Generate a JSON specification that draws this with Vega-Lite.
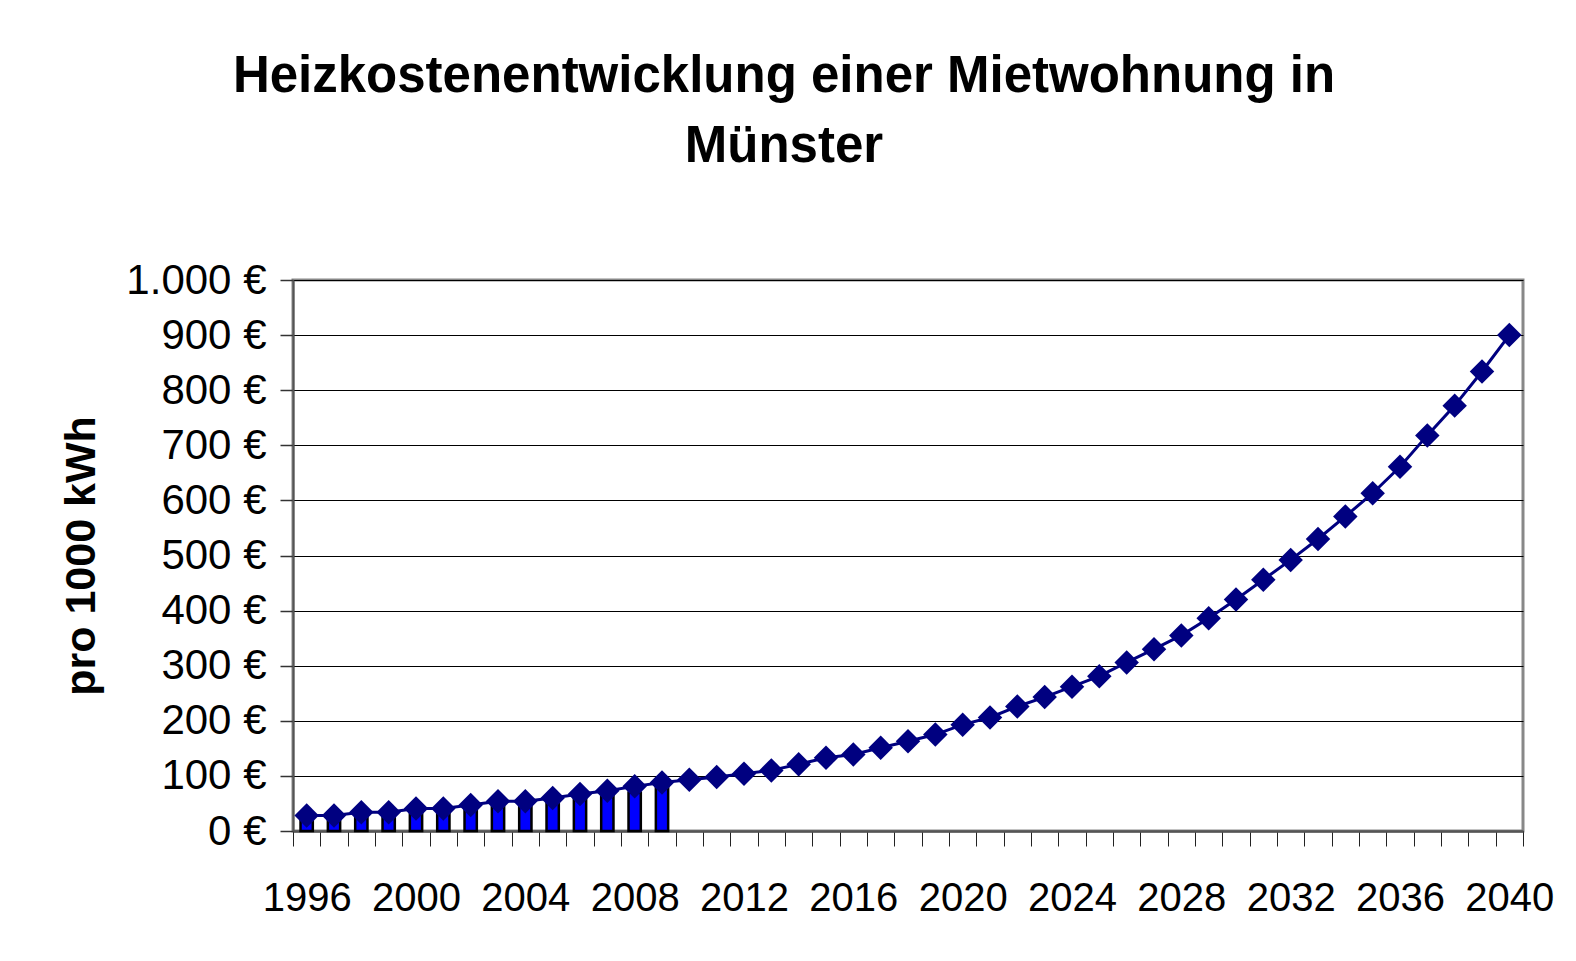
{
  "$schema": "https://vega.github.io/schema/vega-lite/v6.json",
  "autosize": {"type": "none"},
  "padding": {"left": 293, "top": 280, "right": 53, "bottom": 130},
  "width": 1230,
  "height": 551,
  "background": "white",
  "title": {
    "text": ["Heizkostenentwicklung einer Mietwohnung in", "Münster"],
    "font": "Liberation Sans",
    "fontSize": 51,
    "fontWeight": "bold",
    "color": "#000000",
    "lineHeight": 70,
    "anchor": "middle",
    "frame": "group",
    "dx": -124,
    "offset": 86
  },
  "config": {
    "locale": {
      "number": {"decimal": ",", "thousands": ".", "grouping": [3], "currency": ["", " €"]}
    },
    "view": {"stroke": "#888888", "strokeWidth": 3},
    "axis": {"labelFont": "Liberation Sans", "titleFont": "Liberation Sans", "labelColor": "#000000", "titleColor": "#000000"}
  },
  "datasets": {
    "bars": [
      {"year": 1996, "value": 20}, {"year": 1997, "value": 19}, {"year": 1998, "value": 26},
      {"year": 1999, "value": 25}, {"year": 2000, "value": 33}, {"year": 2001, "value": 32},
      {"year": 2002, "value": 38}, {"year": 2003, "value": 44}, {"year": 2004, "value": 48},
      {"year": 2005, "value": 52}, {"year": 2006, "value": 60}, {"year": 2007, "value": 64},
      {"year": 2008, "value": 70}, {"year": 2009, "value": 80}
    ],
    "line": [
      {"year": 1996, "value": 28}, {"year": 1997, "value": 28}, {"year": 1998, "value": 34},
      {"year": 1999, "value": 34}, {"year": 2000, "value": 41}, {"year": 2001, "value": 41},
      {"year": 2002, "value": 47}, {"year": 2003, "value": 54}, {"year": 2004, "value": 54},
      {"year": 2005, "value": 60}, {"year": 2006, "value": 67}, {"year": 2007, "value": 73},
      {"year": 2008, "value": 81}, {"year": 2009, "value": 88}, {"year": 2010, "value": 93},
      {"year": 2011, "value": 98}, {"year": 2012, "value": 104}, {"year": 2013, "value": 110},
      {"year": 2014, "value": 121}, {"year": 2015, "value": 133}, {"year": 2016, "value": 139},
      {"year": 2017, "value": 151}, {"year": 2018, "value": 163}, {"year": 2019, "value": 175},
      {"year": 2020, "value": 193}, {"year": 2021, "value": 206}, {"year": 2022, "value": 226},
      {"year": 2023, "value": 243}, {"year": 2024, "value": 262}, {"year": 2025, "value": 281},
      {"year": 2026, "value": 306}, {"year": 2027, "value": 330}, {"year": 2028, "value": 355},
      {"year": 2029, "value": 386}, {"year": 2030, "value": 420}, {"year": 2031, "value": 456},
      {"year": 2032, "value": 492}, {"year": 2033, "value": 530}, {"year": 2034, "value": 571},
      {"year": 2035, "value": 613}, {"year": 2036, "value": 661}, {"year": 2037, "value": 718},
      {"year": 2038, "value": 772}, {"year": 2039, "value": 834}, {"year": 2040, "value": 900}
    ]
  },
  "encoding": {
    "x": {
      "field": "year",
      "type": "ordinal",
      "scale": {"domain": [1996,1997,1998,1999,2000,2001,2002,2003,2004,2005,2006,2007,2008,2009,2010,2011,2012,2013,2014,2015,2016,2017,2018,2019,2020,2021,2022,2023,2024,2025,2026,2027,2028,2029,2030,2031,2032,2033,2034,2035,2036,2037,2038,2039,2040], "paddingInner": 0, "paddingOuter": 0},
      "axis": {
        "title": null,
        "labelAngle": 0,
        "labelFontSize": 40,
        "labelPadding": 32,
        "labelOverlap": false,
        "labelExpr": "(+datum.value - 1996) % 4 === 0 ? datum.label : ''",
        "tickBand": "extent",
        "tickSize": 15,
        "tickColor": "#222222",
        "tickWidth": 1,
        "domainColor": "#555555",
        "domainWidth": 2.5,
        "grid": false
      }
    },
    "y": {
      "field": "value",
      "type": "quantitative",
      "scale": {"domain": [0, 1000], "nice": false},
      "axis": {
        "title": "pro 1000 kWh",
        "titleFontSize": 43,
        "titleFontWeight": "bold",
        "titlePadding": 22,
        "values": [0,100,200,300,400,500,600,700,800,900,1000],
        "format": "$,.0f",
        "labelFontSize": 42,
        "labelPadding": 14,
        "tickSize": 13,
        "tickColor": "#333333",
        "tickWidth": 1.5,
        "domainColor": "#555555",
        "domainWidth": 2,
        "grid": true,
        "gridColor": "#000000",
        "gridWidth": 1.2
      }
    }
  },
  "layer": [
    {
      "data": {"name": "bars"},
      "mark": {"type": "bar", "color": "#0000FF", "stroke": "#000000", "strokeWidth": 2.5, "width": {"band": 0.45}}
    },
    {
      "data": {"name": "line"},
      "mark": {"type": "line", "color": "#000080", "strokeWidth": 3, "point": {"shape": "diamond", "size": 600, "filled": true, "color": "#000080", "opacity": 1}}
    }
  ]
}
